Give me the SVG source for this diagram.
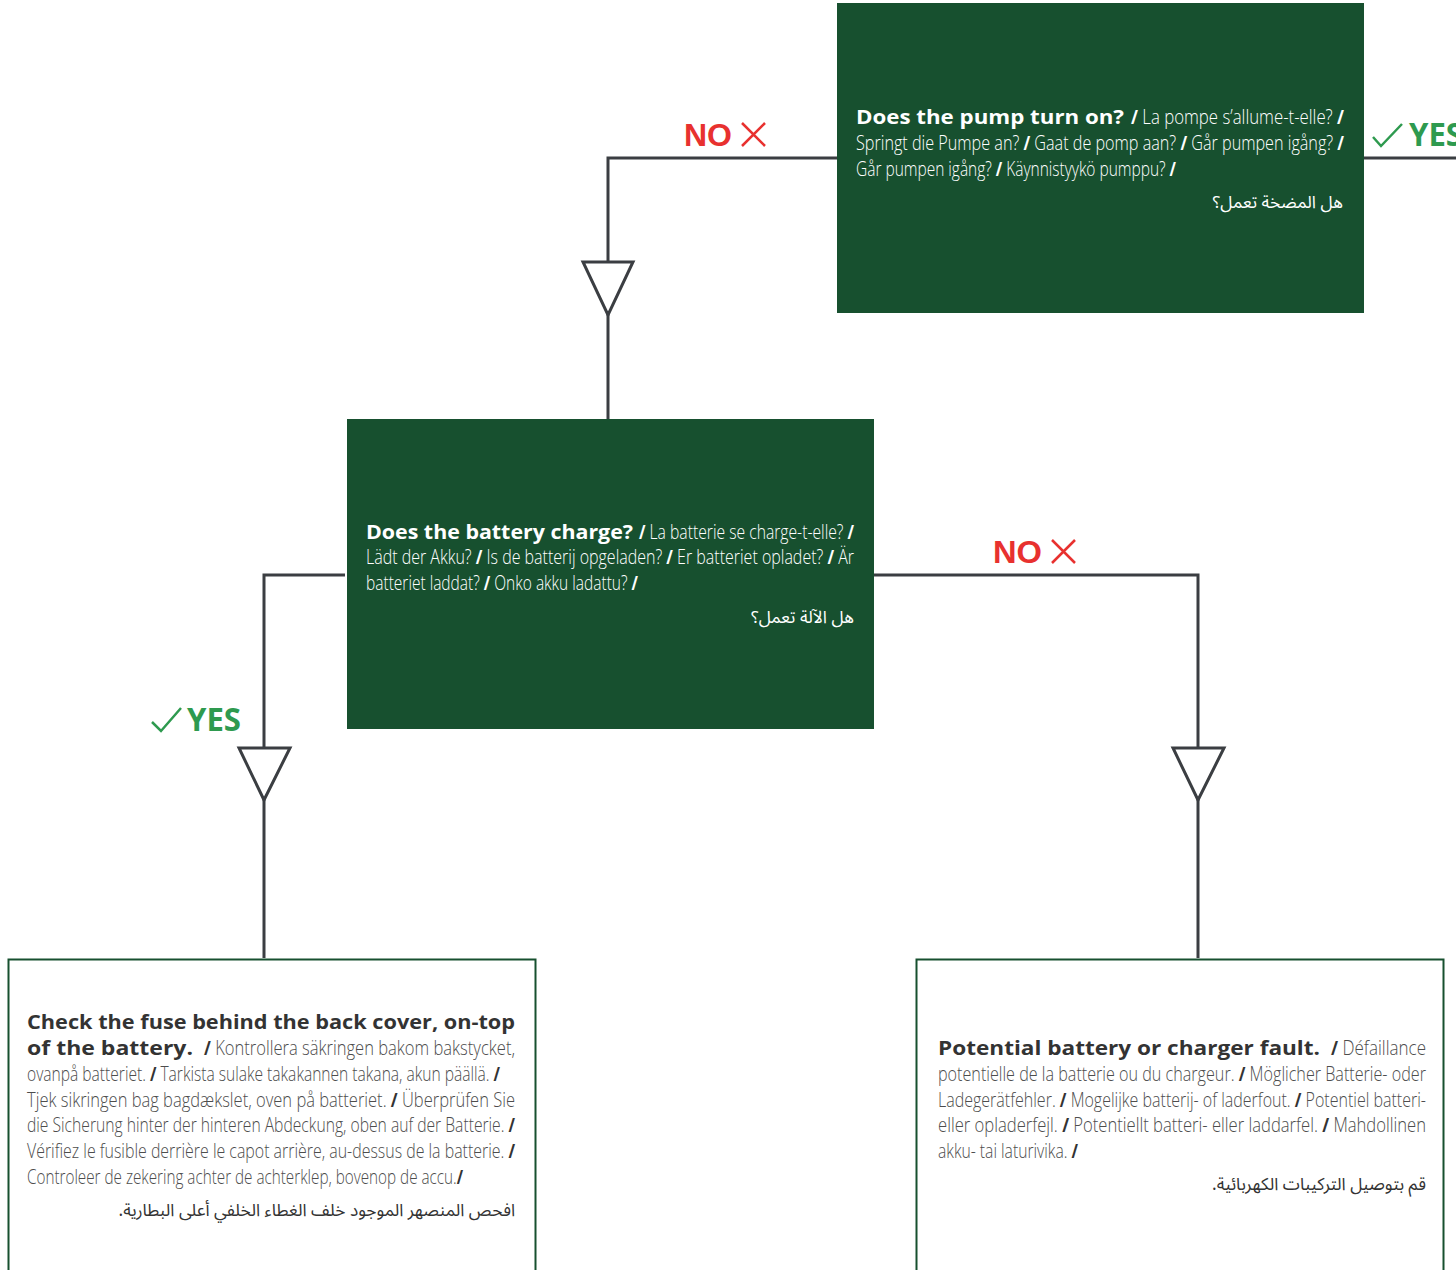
<svg xmlns="http://www.w3.org/2000/svg" width="1456" height="1270" viewBox="0 0 1456 1270">
<style>
.gbox{fill:#17502f}
.wbox{fill:#ffffff;stroke:#17502f;stroke-width:2}
.conn{fill:none;stroke:#3b3e42;stroke-width:3}
.tri{fill:#ffffff;stroke:#3b3e42;stroke-width:3;stroke-linejoin:miter}
.b{font-family:"Open Sans","DejaVu Sans",sans-serif;font-weight:700;font-size:20px}
.l{font-family:"Open Sans","DejaVu Sans",sans-serif;font-weight:300;font-size:20px}
.s{font-weight:700}
.ar{font-family:"Noto Sans Arabic","DejaVu Sans",sans-serif;font-size:17.3px;direction:rtl;unicode-bidi:embed}
.w{fill:#ffffff}
.dk{fill:#333333}
.gr{fill:#4d4d4d}
.no{font-family:"Liberation Sans",Arial,sans-serif;font-weight:700;font-size:32px;fill:#e8312f}
.yes{font-family:"Open Sans",sans-serif;font-weight:700;font-size:33px;fill:#2e9a4f}
.xm{fill:none;stroke:#e8312f;stroke-width:2.5}
.ck{fill:none;stroke:#2e9a4f;stroke-width:2.5}
</style>
<rect width="1456" height="1270" fill="#ffffff"/>
<g id="connectors">
  <path class="conn" d="M837,158 H608 V419"/>
  <polygon class="tri" points="583,262 633,262 608,315"/>
  <path class="conn" d="M1364,158 H1456"/>
  <path class="conn" d="M345,575 H264 V958"/>
  <polygon class="tri" points="239,748 290,748 264,800"/>
  <path class="conn" d="M874,575 H1198 V958"/>
  <polygon class="tri" points="1173,748 1224,748 1198,800"/>
  <g id="label-no-1">
    <text class="no" x="684" y="146" textLength="48" lengthAdjust="spacingAndGlyphs">NO</text>
    <path class="xm" d="M742,123 L765,146 M765,123 L742,146"/>
  </g>
  <g id="label-yes-1">
    <path class="ck" d="M1373,137 L1381,146 L1402,124"/>
    <text class="yes" x="1409" y="146" textLength="54" lengthAdjust="spacingAndGlyphs">YES</text>
  </g>
  <g id="label-no-2">
    <text class="no" x="993" y="563" textLength="49" lengthAdjust="spacingAndGlyphs">NO</text>
    <path class="xm" d="M1052,540 L1075,563 M1075,540 L1052,563"/>
  </g>
  <g id="label-yes-2">
    <path class="ck" d="M152,722 L161,731 L181,708"/>
    <text class="yes" x="187" y="731" textLength="54" lengthAdjust="spacingAndGlyphs">YES</text>
  </g>
</g>
<g id="node-pump">
  <rect class="gbox" x="837" y="3" width="527" height="310"/>
  <text class="b w" x="856" y="124" textLength="268" lengthAdjust="spacingAndGlyphs">Does the pump turn on?</text>
  <text class="l w" x="1131" y="124" textLength="213" lengthAdjust="spacingAndGlyphs"><tspan class="s">/</tspan> La pompe s’allume-t-elle? <tspan class="s">/</tspan></text>
  <text class="l w" x="856" y="150" textLength="488" lengthAdjust="spacingAndGlyphs">Springt die Pumpe an? <tspan class="s">/</tspan> Gaat de pomp aan? <tspan class="s">/</tspan> Går pumpen igång? <tspan class="s">/</tspan></text>
  <text class="l w" x="856" y="176" textLength="320" lengthAdjust="spacingAndGlyphs">Går pumpen igång? <tspan class="s">/</tspan> Käynnistyykö pumppu? <tspan class="s">/</tspan></text>
  <text class="ar w" x="1343" y="208" text-anchor="start">هل المضخة تعمل؟</text>
</g>
<g id="node-battery">
  <rect class="gbox" x="347" y="419" width="527" height="310"/>
  <text class="b w" x="366" y="539" textLength="267" lengthAdjust="spacingAndGlyphs">Does the battery charge?</text>
  <text class="l w" x="639" y="539" textLength="215" lengthAdjust="spacingAndGlyphs"><tspan class="s">/</tspan> La batterie se charge-t-elle? <tspan class="s">/</tspan></text>
  <text class="l w" x="366" y="564" textLength="488" lengthAdjust="spacingAndGlyphs">Lädt der Akku? <tspan class="s">/</tspan> Is de batterij opgeladen? <tspan class="s">/</tspan> Er batteriet opladet? <tspan class="s">/</tspan> Är</text>
  <text class="l w" x="366" y="590" textLength="272" lengthAdjust="spacingAndGlyphs">batteriet laddat? <tspan class="s">/</tspan> Onko akku ladattu? <tspan class="s">/</tspan></text>
  <text class="ar w" x="854" y="623" text-anchor="start">هل الآلة تعمل؟</text>
</g>
<g id="node-fuse">
  <rect class="wbox" x="8.5" y="959.5" width="527" height="330"/>
  <text class="b dk" x="27" y="1029" textLength="488" lengthAdjust="spacingAndGlyphs">Check the fuse behind the back cover, on-top</text>
  <text class="b dk" x="27" y="1055" textLength="166" lengthAdjust="spacingAndGlyphs">of the battery.</text>
  <text class="l gr" x="204" y="1055" textLength="311" lengthAdjust="spacingAndGlyphs"><tspan class="s dk">/</tspan> Kontrollera säkringen bakom bakstycket,</text>
  <text class="l gr" x="27" y="1081" textLength="473" lengthAdjust="spacingAndGlyphs">ovanpå batteriet. <tspan class="s dk">/</tspan> Tarkista sulake takakannen takana, akun päällä. <tspan class="s dk">/</tspan></text>
  <text class="l gr" x="27" y="1107" textLength="488" lengthAdjust="spacingAndGlyphs">Tjek sikringen bag bagdækslet, oven på batteriet. <tspan class="s dk">/</tspan> Überprüfen Sie</text>
  <text class="l gr" x="27" y="1132" textLength="488" lengthAdjust="spacingAndGlyphs">die Sicherung hinter der hinteren Abdeckung, oben auf der Batterie. <tspan class="s dk">/</tspan></text>
  <text class="l gr" x="27" y="1158" textLength="488" lengthAdjust="spacingAndGlyphs">Vérifiez le fusible derrière le capot arrière, au-dessus de la batterie. <tspan class="s dk">/</tspan></text>
  <text class="l gr" x="27" y="1184" textLength="436" lengthAdjust="spacingAndGlyphs">Controleer de zekering achter de achterklep, bovenop de accu.<tspan class="s dk">/</tspan></text>
  <text class="ar dk" x="515" y="1216" text-anchor="start">افحص المنصهر الموجود خلف الغطاء الخلفي أعلى البطارية.</text>
</g>
<g id="node-fault">
  <rect class="wbox" x="916.5" y="959.5" width="527" height="330"/>
  <text class="b dk" x="938" y="1055" textLength="382" lengthAdjust="spacingAndGlyphs">Potential battery or charger fault.</text>
  <text class="l gr" x="1331" y="1055" textLength="95" lengthAdjust="spacingAndGlyphs"><tspan class="s dk">/</tspan> Défaillance</text>
  <text class="l gr" x="938" y="1081" textLength="488" lengthAdjust="spacingAndGlyphs">potentielle de la batterie ou du chargeur. <tspan class="s dk">/</tspan> Möglicher Batterie- oder</text>
  <text class="l gr" x="938" y="1107" textLength="488" lengthAdjust="spacingAndGlyphs">Ladegerätfehler. <tspan class="s dk">/</tspan> Mogelijke batterij- of laderfout. <tspan class="s dk">/</tspan> Potentiel batteri-</text>
  <text class="l gr" x="938" y="1132" textLength="488" lengthAdjust="spacingAndGlyphs">eller opladerfejl. <tspan class="s dk">/</tspan> Potentiellt batteri- eller laddarfel. <tspan class="s dk">/</tspan> Mahdollinen</text>
  <text class="l gr" x="938" y="1158" textLength="140" lengthAdjust="spacingAndGlyphs">akku- tai laturivika. <tspan class="s dk">/</tspan></text>
  <text class="ar dk" x="1426" y="1190" text-anchor="start">قم بتوصيل التركيبات الكهربائية.</text>
</g>
</svg>
